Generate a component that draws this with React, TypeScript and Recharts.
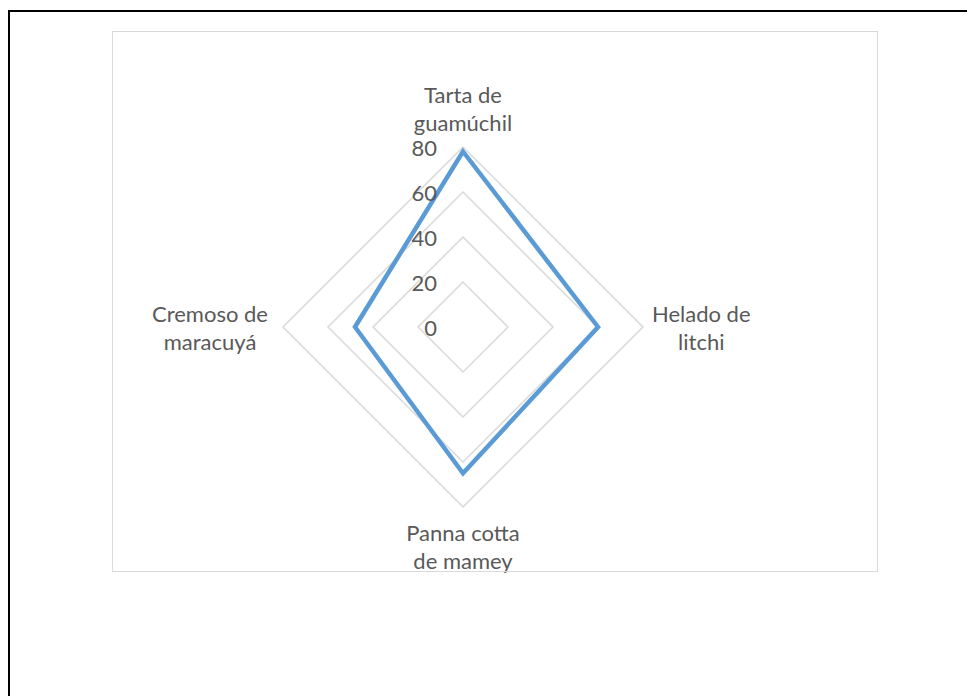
import React from "react";
import { PolarAngleAxis, PolarGrid, PolarRadiusAxis, Radar, RadarChart } from "recharts";

const categories = ["Tarta de\nguamúchil", "Helado de\nlitchi", "Panna cotta\nde mamey", "Cremoso de\nmaracuyá"];
const values = [78, 60, 65, 48];
const radiusTicks = [0, 20, 40, 60, 80];

const data = categories.map((name, i) => ({ name, value: values[i] }));

const FONT = "Lato, 'Open Sans', sans-serif";
const FONT_SIZE = 22;
const LINE_H = 28;
const TEXT_COLOR = "#595959";

let ctx: CanvasRenderingContext2D | null = null;
function textWidth(s: string) {
  if (!ctx) ctx = document.createElement("canvas").getContext("2d");
  if (!ctx) return s.length * 10;
  ctx.font = `${FONT_SIZE}px Lato`;
  return ctx.measureText(s).width;
}

function AngleTick(props: any) {
  const { x, y, payload, textAnchor } = props;
  const lines: string[] = String(payload.value).split("\n");
  const widest = Math.max(...lines.map(textWidth));
  let cx = x;
  let firstY = y;
  if (textAnchor === "start") {
    cx = x + 1 + widest / 2;
    firstY = y - ((lines.length - 1) * LINE_H) / 2;
  } else if (textAnchor === "end") {
    cx = x - 7 - widest / 2;
    firstY = y - ((lines.length - 1) * LINE_H) / 2;
  } else if (y < props.cy) {
    firstY = y - 17 - (lines.length - 1) * LINE_H;
  } else {
    firstY = y + 17;
  }
  return (
    <text textAnchor="middle" fill={TEXT_COLOR} fontSize={FONT_SIZE} fontFamily={FONT}>
      {lines.map((l, i) => (
        <tspan key={i} x={cx} y={firstY + i * LINE_H} dominantBaseline="central">
          {l}
        </tspan>
      ))}
    </text>
  );
}

function RadiusTick(props: any) {
  const { x, y, payload } = props;
  return (
    <text x={x - 26} y={y} textAnchor="end" dominantBaseline="central" fill={TEXT_COLOR} fontSize={FONT_SIZE} fontFamily={FONT}>
      {payload.value}
    </text>
  );
}

export default function App() {
  return (
    <div style={{ position: "fixed", left: 0, top: 0, width: 967, height: 696, overflow: "hidden", background: "#fff" }}>
      <div
        style={{
          position: "absolute",
          left: 8,
          top: 10,
          width: 1000,
          height: 760,
          border: "2px solid #000",
          boxSizing: "border-box",
        }}
      />
      <div style={{ position: "absolute", left: 113, top: 32 }}>
        <RadarChart
          width={763}
          height={580}
          data={data}
          cx={350}
          cy={295}
          outerRadius={180}
          startAngle={90}
          endAngle={-270}
          margin={{ top: 0, right: 0, bottom: 0, left: 0 }}
        >
          <PolarGrid gridType="polygon" radialLines={false} stroke="#d9d9d9" strokeWidth={1.5} />
          <PolarAngleAxis dataKey="name" tick={<AngleTick />} tickLine={false} axisLine={false} />
          <PolarRadiusAxis
            angle={90}
            domain={[0, 80]}
            ticks={radiusTicks}
            tickCount={5}
            axisLine={false}
            tickLine={false}
            tick={<RadiusTick />}
          />
          <Radar
            dataKey="value"
            stroke="#5b9bd5"
            strokeWidth={4.5}
            fill="none"
            fillOpacity={0}
            isAnimationActive={false}
            dot={false}
          />
        </RadarChart>
      </div>
      <div
        style={{
          position: "absolute",
          left: 112,
          top: 31,
          width: 766,
          height: 541,
          border: "1.5px solid #d9d9d9",
          boxSizing: "border-box",
          pointerEvents: "none",
        }}
      />
    </div>
  );
}
